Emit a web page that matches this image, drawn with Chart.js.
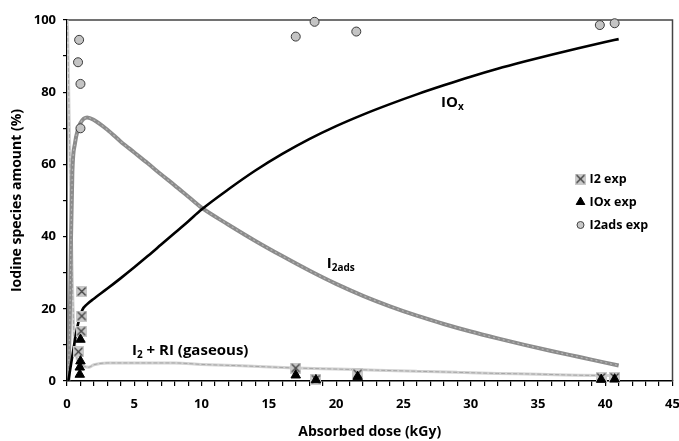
<!DOCTYPE html>
<html>
<head>
<meta charset="utf-8">
<title>Iodine species vs absorbed dose</title>
<script src="https://cdn.jsdelivr.net/npm/chart.js@4.4.1/dist/chart.umd.min.js"></script>
<style>
body{margin:0;background:#fff;}
canvas{display:block;}
</style>
</head>
<body>
<canvas id="doseChart" width="679" height="441"></canvas>
<script>
// model curves
const doseIOx=[0.1,0.4,0.77,1.14,1.5,2,3,4,5,6,7,8,9,10,12,14,16,18,20,22,24,26,28,30,32,34,36,38,40,41];
const iox=[0,7,15,19.7,21.3,22.8,25.6,28.5,31.5,34.6,37.8,41,44.2,47.5,53.1,58.3,62.9,67,70.6,73.8,76.7,79.4,81.9,84.3,86.5,88.5,90.4,92.2,93.9,94.7];

const doseI2ads=[0.1,0.2,0.3,0.4,0.6,0.8,1,1.5,2,3,4,5,6,7,8,9,10,12,14,16,18,20,22,24,26,28,30,32,34,36,38,40,41];
const i2ads=[0,15,40,58,66,69.5,71.5,73,72.3,69.6,66.3,63.3,60.3,57.2,54.2,51.1,48,43.3,38.8,34.6,30.6,26.9,23.6,20.7,18.1,15.8,13.7,11.8,10,8.3,6.7,5.1,4.3];

const doseGas=[0,0.05,0.15,0.22,0.3,0.4,0.52,0.7,0.9,1.2,1.6,2,3,5,8,10,13,17,20,23,26,29,32,35,38,41];
const i2gas=[100,97,75,61,45,28,13,7,5,4.2,3.8,4.5,5,5,5,4.6,4.2,3.6,3.3,3,2.7,2.4,2.1,1.9,1.6,1.5];

// experimental points
const doseI2exp=[0.85,1.05,1.1,1.1,17,18.5,21.6,39.7,40.7];
const i2exp=[8.1,13.8,18,24.8,3.6,0.5,2,1,1];

const doseIOxExp=[0.95,0.95,1.0,1.0,17,18.5,21.6,39.7,40.7];
const ioxExp=[1.8,3.8,5.5,11.5,1.6,0.3,1.2,0.4,0.5];

const doseI2adsExp=[0.82,0.9,1.0,1.0,17,18.4,21.5,39.6,40.7];
const i2adsExp=[88.3,94.5,82.3,70,95.4,99.5,96.8,98.6,99.1];

const xTicks=[0,5,10,15,20,25,30,35,40,45];
const yTicks=[0,20,40,60,80,100];

const legendNames=['I2 exp','IOx exp','I2ads exp'];

function pts(xs,ys){
return xs.map((x,i)=>({x:x,y:ys[i]}));
}

const FONT='"Open Sans", sans-serif';

// grey square with an x, like the excel marker
const xMark=document.createElement('canvas');
xMark.width=11;
xMark.height=11;
const xc=xMark.getContext('2d');
xc.fillStyle='#c9c9c9';
xc.fillRect(0,0,11,11);
xc.strokeStyle='#3a3a3a';
xc.lineWidth=1.2;
xc.beginPath();
xc.moveTo(1.5,1.5);xc.lineTo(9.5,9.5);
xc.moveTo(9.5,1.5);xc.lineTo(1.5,9.5);
xc.stroke();

const curveLabels=[
{x:27.8,y:77,parts:[['IO',false],['x',true]]},
{x:19.3,y:32.4,parts:[['I',false],['2ads',true]]},
{x:4.83,y:8.3,parts:[['I',false],['2',true],[' + RI (gaseous)',false]]}
];

const framePlugin={
id:'frame',
beforeDatasetsDraw(chart){
const a=chart.chartArea,c=chart.ctx;
c.save();
c.strokeStyle='#444';
c.lineWidth=1.5;
c.beginPath();
c.moveTo(a.left,a.top);
c.lineTo(a.right,a.top);
c.lineTo(a.right,a.bottom);
c.stroke();
c.restore();
}
};

const labelPlugin={
id:'curveLabels',
afterDatasetsDraw(chart){
const c=chart.ctx;
const xs=chart.scales.x,ys=chart.scales.y;
c.save();
c.fillStyle='#000';
c.textBaseline='middle';
curveLabels.forEach(l=>{
let px=xs.getPixelForValue(l.x);
const py=ys.getPixelForValue(l.y);
l.parts.forEach(p=>{
c.font=p[1]?'bold 10px '+FONT:'bold 15px '+FONT;
c.fillText(p[0],px,p[1]?py+4:py);
px+=c.measureText(p[0]).width;
});
});

// legend inside the plot
const lx=chart.chartArea.right-92;
const ly=[179,202,225];
c.font='bold 12.5px '+FONT;
c.drawImage(xMark,lx-5.5,ly[0]-5.5);
Chart.helpers.drawPoint(c,{pointStyle:'triangle',radius:5,borderWidth:1},lx,ly[1]);
c.fillStyle='#c8c8c8';
c.strokeStyle='#444';
c.lineWidth=1;
c.beginPath();
c.arc(lx,ly[2],3.5,0,Math.PI*2);
c.fill();
c.stroke();
c.fillStyle='#000';
legendNames.forEach((n,i)=>c.fillText(n,lx+9,ly[i]));
c.restore();
}
};

const ctx=document.getElementById('doseChart');

new Chart(ctx,{
type:'scatter',
data:{
datasets:[
{
label:'IOx exp',
data:pts(doseIOxExp,ioxExp),
pointStyle:'triangle',
pointRadius:5.5,
backgroundColor:'#000',
borderColor:'#000',
borderWidth:1,
clip:false
},
{
label:'I2 exp',
data:pts(doseI2exp,i2exp),
pointStyle:xMark,
pointRadius:5,
clip:false
},
{
label:'I2ads exp',
data:pts(doseI2adsExp,i2adsExp),
pointStyle:'circle',
pointRadius:4.5,
backgroundColor:'#c4c4c4',
borderColor:'#3a3a3a',
borderWidth:1,
clip:false
},
{
label:'IOx',
data:pts(doseIOx,iox),
showLine:true,
pointRadius:0,
borderColor:'#000',
borderWidth:2.6,
cubicInterpolationMode:'monotone'
},
{
label:'I2ads texture',
data:pts(doseI2ads,i2ads),
showLine:true,
pointRadius:0,
borderColor:'#b4b4b4',
borderWidth:1.2,
borderDash:[2,3],
cubicInterpolationMode:'monotone'
},
{
label:'I2ads',
data:pts(doseI2ads,i2ads),
showLine:true,
pointRadius:0,
borderColor:'#8c8c8c',
borderWidth:4,
cubicInterpolationMode:'monotone'
},
{
label:'I2 + RI texture',
data:pts(doseGas,i2gas),
showLine:true,
pointRadius:0,
borderColor:'#a6a6a6',
borderWidth:1,
borderDash:[4,2],
cubicInterpolationMode:'monotone'
},
{
label:'I2 + RI (gaseous)',
data:pts(doseGas,i2gas),
showLine:true,
pointRadius:0,
borderColor:'#d2d2d2',
borderWidth:3,
cubicInterpolationMode:'monotone'
}
]
},
options:{
responsive:false,
animation:false,
layout:{padding:{top:20,right:6,left:0,bottom:0}},
plugins:{
legend:{display:false},
tooltip:{enabled:false}
},
scales:{
x:{
type:'linear',
min:0,
max:45,
ticks:{
stepSize:1,
autoSkip:false,
maxRotation:0,
color:'#000',
padding:10,
font:{family:FONT,size:13,weight:'bold'},
callback:v=>xTicks.includes(v)?v:''
},
grid:{drawOnChartArea:false,tickLength:5,color:'#000',lineWidth:1.2},
border:{color:'#000',width:1.5},
title:{
display:true,
text:'Absorbed dose (kGy)',
color:'#000',
font:{family:FONT,size:14,weight:'bold'},
padding:{top:4,bottom:1}
},
afterFit(s){
s.height=60;
s.paddingLeft=0;
s.paddingRight=0;
}
},
y:{
min:0,
max:100,
ticks:{
stepSize:10,
color:'#000',
padding:7,
font:{family:FONT,size:13,weight:'bold'},
callback:v=>yTicks.includes(v)?v:''
},
grid:{drawOnChartArea:false,tickLength:4,color:'#000',lineWidth:1.2},
border:{color:'#000',width:1.5},
title:{
display:true,
text:'Iodine species amount (%)',
color:'#000',
font:{family:FONT,size:14,weight:'bold'},
padding:{top:9,bottom:0}
},
afterFit(s){
s.width=67;
}
}
}
},
plugins:[framePlugin,labelPlugin]
});
</script>
</body>
</html>
